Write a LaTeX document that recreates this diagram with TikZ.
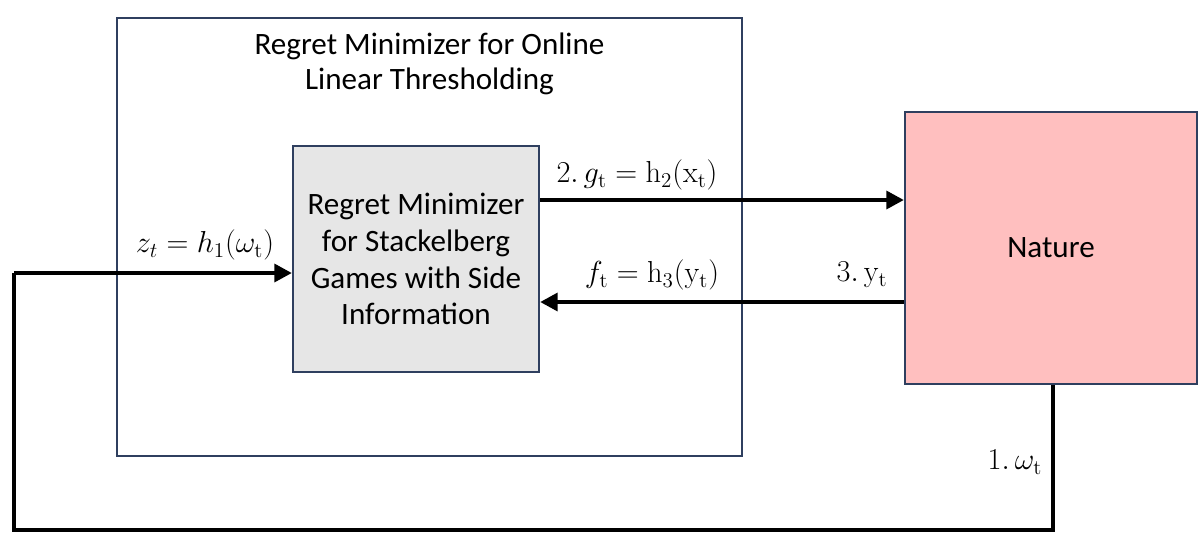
\documentclass[tikz,border=0pt]{standalone}
\usepackage[no-math]{fontspec}
\setmainfont{Carlito}
\usetikzlibrary{arrows.meta}
\definecolor{boxline}{HTML}{2F3F5F}
\definecolor{greyfill}{HTML}{E6E6E6}
\definecolor{naturefill}{HTML}{FFBFBF}
\tikzset{
  frame/.style={draw=boxline, line width=1.2pt, inner sep=0pt},
  flow/.style={line width=2.6pt, -{Triangle[length=10pt,width=10pt]}},
  plain/.style={line width=2.6pt},
  lbl/.style={inner sep=0pt, font=\fontsize{18}{20}\selectfont},
  txt/.style={align=center, font=\fontsize{17.7}{19}\selectfont}
}
\begin{document}
\begin{tikzpicture}
\useasboundingbox (0,0) rectangle (24,-10.7);
\node[frame, minimum width=12.5cm, minimum height=8.76cm] (outer) at (8.59,-4.74) {};
\node[txt, font=\fontsize{17.7}{19.8}\selectfont] (title) at (8.59,-1.28) {Regret Minimizer for Online\\Linear Thresholding};
\node[frame, fill=greyfill, minimum width=4.92cm, minimum height=4.52cm, txt, font=\fontsize{17.7}{21}\selectfont] (rm) at (8.32,-5.18) {Regret Minimizer\\for Stackelberg\\Games with Side\\Information};
\node[frame, fill=naturefill, minimum width=5.84cm, minimum height=5.44cm, txt] (nature) at (21.02,-4.96) {Nature};
\coordinate (c1) at (21.06,-10.6);
\coordinate (c2) at (0.28,-10.6);
\coordinate (c3) at (0.28,-5.46);
\draw[flow] (rm.east |- 0,-4.0) -- (nature.west |- 0,-4.0);
\draw[flow] (nature.west |- 0,-6.04) -- (rm.east |- 0,-6.04);
\draw[plain] (nature.south -| c1) -- (c1) -- (c2) -- (c3);
\draw[flow] (c3) -- (rm.west |- c3);
\node[lbl] (l2) at (12.74,-3.5) {$2.\,g_{\mathrm{t}} = \mathrm{h}_2(\mathrm{x}_{\mathrm{t}})$};
\node[lbl] (lf) at (13.04,-5.5) {$f_{\mathrm{t}} = \mathrm{h}_3(\mathrm{y}_{\mathrm{t}})$};
\node[lbl] (l3) at (17.24,-5.5) {$3.\,\mathrm{y}_{\mathrm{t}}$};
\node[lbl] (lz) at (4.1,-4.9) {$z_t = h_1(\omega_{\mathrm{t}})$};
\node[lbl] (l1) at (20.3,-9.24) {$1.\,\omega_{\mathrm{t}}$};
\end{tikzpicture}
\end{document}
